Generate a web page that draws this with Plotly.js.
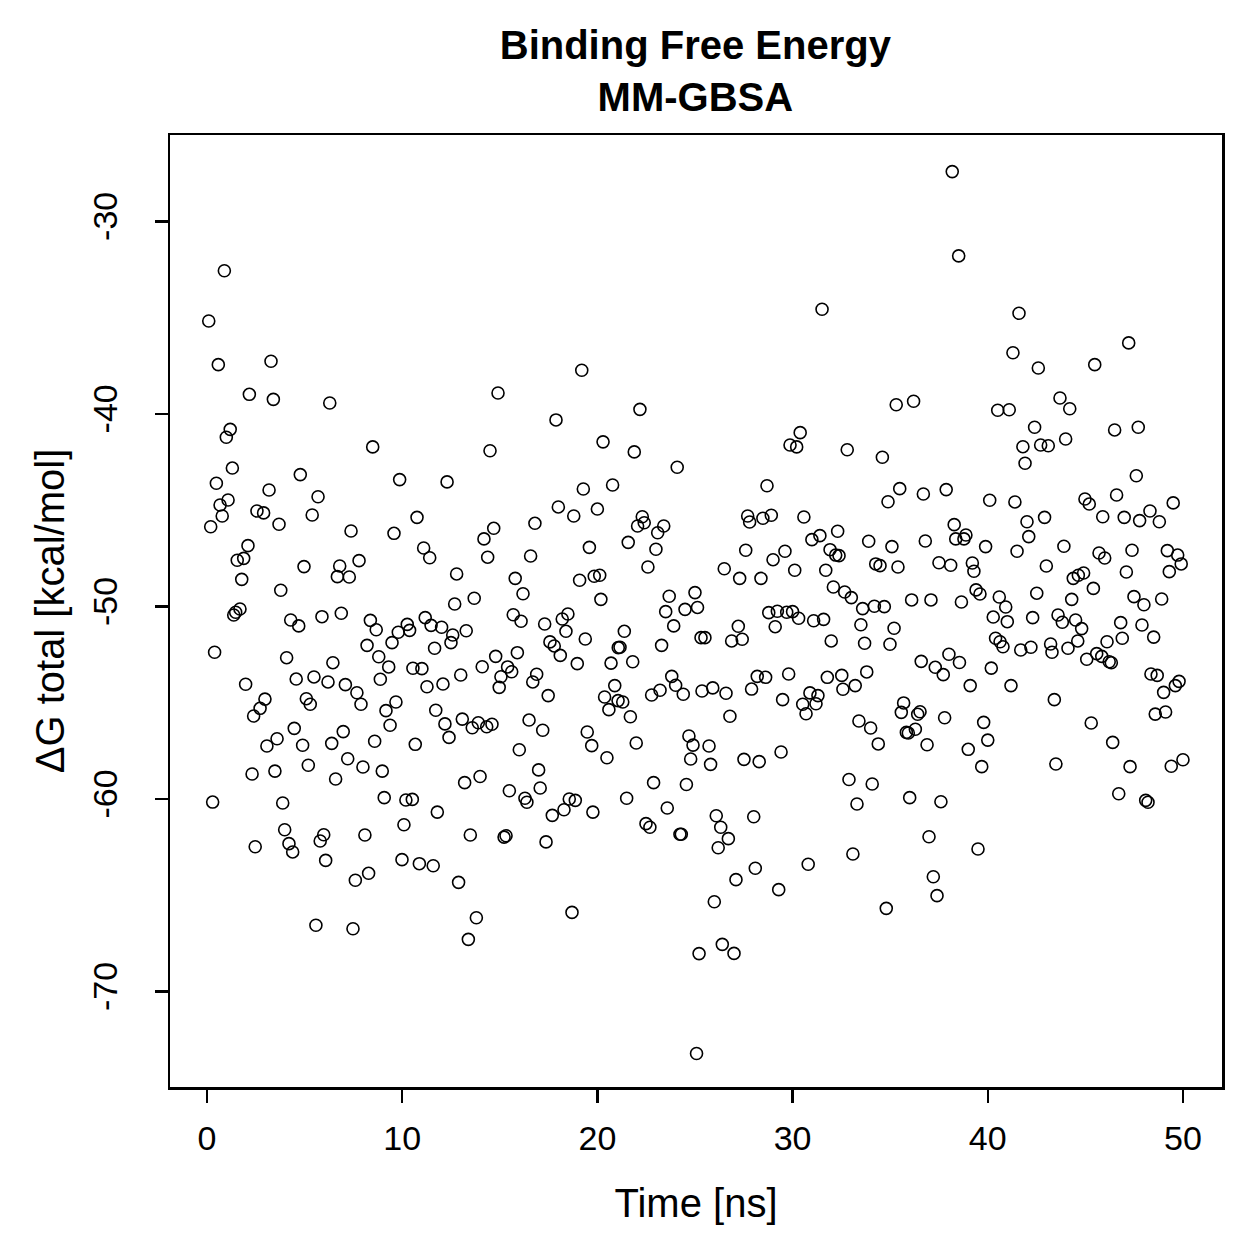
<!DOCTYPE html>
<html>
<head>
<meta charset="utf-8">
<script src="https://cdn.plot.ly/plotly-3.0.1.min.js"></script>
<style>
  html, body { margin: 0; padding: 0; background: #ffffff; }
  #chart { width: 1259px; height: 1259px; }
</style>
</head>
<body>
<div id="chart"></div>
<script>
// MM-GBSA binding free energy per frame (time in ns, energy in kcal/mol)
const time = [
  0.89, 0.09, 0.58, 3.28, 2.17, 3.40, 6.29, 1.19, 0.99, 8.49,
  19.20, 14.91, 22.18, 17.88, 14.50, 20.29, 21.89, 38.18, 38.51, 31.51,
  35.31, 36.20, 30.39, 29.87, 30.21, 32.80, 34.60, 41.60, 41.29, 42.59,
  47.22, 45.48, 43.70, 44.20, 40.51, 41.10, 42.40, 46.50, 47.71, 43.99,
  41.80, 42.71, 43.10, 1.30, 0.48, 4.78, 9.87, 3.18, 1.08, 0.67,
  5.69, 2.56, 2.90, 0.78, 5.39, 0.19, 3.69, 10.76, 7.38, 9.58,
  2.10, 11.10, 11.41, 1.55, 1.88, 4.97, 6.80, 7.79, 6.68, 7.29,
  1.78, 3.78, 1.69, 1.47, 1.37, 4.29, 4.70, 5.89, 6.88, 8.37,
  8.67, 9.80, 10.26, 10.38, 11.18, 11.48, 12.02, 9.48, 8.20, 0.39,
  11.66, 4.08, 8.80, 9.31, 6.45, 10.55, 11.01, 1.98, 4.57, 5.48,
  6.20, 7.09, 8.88, 11.27, 12.09, 7.68, 5.09, 5.29, 7.89, 9.68,
  9.17, 2.97, 2.72, 2.39, 11.72, 12.19, 4.47, 6.98, 9.38, 3.59,
  3.07, 4.90, 6.39, 8.59, 10.67, 7.21, 7.99, 8.98, 2.31, 3.48,
  5.19, 6.59, 0.29, 3.88, 9.08, 10.19, 10.52, 11.80, 3.98, 4.20,
  4.39, 2.47, 5.98, 5.80, 8.09, 10.09, 6.08, 9.99, 10.88, 11.59,
  8.28, 7.60, 5.58, 7.48, 24.09, 12.30, 19.28, 20.78, 18.00, 18.79,
  20.00, 16.80, 14.69, 14.19, 14.38, 16.58, 19.59, 22.30, 22.40, 22.06,
  23.40, 23.09, 21.58, 23.00, 22.59, 12.79, 15.79, 19.09, 19.84, 20.12,
  16.19, 13.69, 12.69, 20.18, 23.68, 25.00, 23.50, 24.49, 25.13, 23.91,
  15.69, 16.09, 17.30, 18.20, 18.49, 18.39, 19.38, 21.38, 21.16, 21.07,
  23.29, 25.31, 25.51, 12.59, 12.50, 13.28, 17.57, 17.79, 18.10, 18.97,
  20.70, 21.81, 14.79, 15.90, 14.10, 15.40, 15.61, 15.06, 14.97, 13.00,
  16.89, 16.69, 17.48, 20.89, 20.37, 21.06, 21.30, 20.59, 21.69, 23.81,
  24.01, 24.40, 23.21, 22.78, 25.36, 12.40, 13.08, 13.59, 13.90, 14.33,
  14.60, 16.50, 17.20, 16.00, 19.48, 19.71, 20.49, 21.99, 24.69, 24.90,
  24.78, 16.99, 13.99, 13.20, 15.49, 17.07, 16.29, 16.39, 18.56, 18.87,
  18.29, 17.69, 19.77, 13.49, 15.22, 15.32, 17.37, 21.50, 22.88, 24.56,
  23.58, 22.49, 22.69, 24.23, 24.30, 12.89, 18.70, 13.80, 13.39, 25.21,
  25.08, 28.69, 34.89, 35.49, 36.70, 37.87, 27.70, 27.80, 28.48, 28.91,
  30.58, 32.31, 31.40, 30.99, 33.90, 35.09, 36.80, 38.28, 38.36, 27.60,
  29.61, 29.00, 31.92, 32.21, 32.38, 34.26, 34.48, 35.40, 37.50, 38.10,
  26.50, 27.29, 28.38, 30.11, 31.70, 32.09, 32.67, 33.01, 33.59, 34.19,
  34.70, 36.10, 37.09, 38.65, 28.78, 29.22, 29.70, 30.00, 30.31, 29.11,
  31.08, 31.59, 33.50, 35.20, 27.22, 26.88, 27.42, 31.98, 33.69, 34.99,
  36.59, 37.31, 37.72, 38.01, 38.55, 28.19, 28.62, 29.80, 31.78, 32.52,
  33.80, 32.58, 33.21, 27.90, 25.91, 26.59, 29.49, 30.89, 31.30, 30.52,
  31.20, 30.69, 26.79, 35.69, 35.57, 36.53, 36.41, 37.79, 33.40, 34.00,
  36.29, 35.83, 35.93, 34.39, 36.89, 25.72, 25.80, 27.51, 28.29, 29.41,
  32.89, 34.08, 36.00, 37.60, 33.30, 26.09, 26.32, 26.71, 26.19, 28.01,
  36.99, 33.09, 28.09, 27.10, 30.80, 29.29, 37.21, 37.40, 34.80, 25.99,
  26.40, 27.00, 41.91, 47.61, 40.10, 41.39, 44.98, 45.20, 46.60, 49.50,
  42.01, 42.91, 45.89, 46.99, 47.78, 48.31, 48.79, 38.88, 38.78, 42.10,
  39.89, 41.50, 43.90, 47.39, 45.70, 45.99, 47.10, 49.20, 49.73, 49.91,
  49.30, 39.21, 39.29, 43.00, 44.91, 44.64, 44.38, 45.41, 39.40, 39.60,
  40.59, 40.92, 42.51, 44.30, 47.49, 48.00, 48.91, 40.28, 41.00, 42.30,
  43.60, 43.82, 44.50, 44.81, 46.81, 47.90, 48.50, 46.89, 40.40, 40.63,
  40.78, 41.69, 42.21, 43.22, 43.29, 44.11, 44.61, 46.11, 45.58, 45.84,
  46.22, 46.33, 45.07, 40.18, 48.36, 48.68, 49.80, 49.61, 49.01, 39.10,
  41.19, 43.41, 48.58, 49.11, 39.79, 40.00, 39.00, 39.69, 45.30, 46.40,
  43.49, 47.29, 49.40, 50.00, 46.71, 48.09, 48.21, 39.50
];

const deltaG = [
  -32.56, -35.17, -37.44, -37.26, -38.98, -39.24, -39.43, -40.80, -41.21, -41.71,
  -37.73, -38.91, -39.76, -40.31, -41.91, -41.45, -41.97, -27.41, -31.79, -34.56,
  -39.52, -39.34, -40.97, -41.61, -41.71, -41.86, -42.25, -34.77, -36.82, -37.61,
  -36.31, -37.44, -39.17, -39.73, -39.81, -39.78, -40.69, -40.83, -40.69, -41.30,
  -41.70, -41.61, -41.65, -42.81, -43.60, -43.15, -43.41, -43.95, -44.47, -44.73,
  -44.30, -45.04, -45.14, -45.30, -45.25, -45.86, -45.73, -45.37, -46.08, -46.20,
  -46.84, -46.96, -47.47, -47.60, -47.50, -47.93, -47.90, -47.62, -48.45, -48.47,
  -48.59, -49.16, -50.13, -50.30, -50.44, -50.70, -51.01, -50.53, -50.35, -50.72,
  -51.21, -51.34, -50.93, -51.24, -50.58, -50.98, -51.08, -51.88, -52.02, -52.38,
  -52.17, -52.66, -52.61, -53.14, -52.92, -53.21, -53.23, -54.04, -53.77, -53.66,
  -53.92, -54.06, -53.78, -54.17, -54.03, -54.48, -54.79, -55.08, -55.08, -54.96,
  -55.41, -54.81, -55.29, -55.69, -55.39, -56.10, -56.33, -56.50, -56.17, -56.87,
  -57.25, -57.21, -57.11, -57.00, -57.16, -57.91, -58.34, -58.55, -58.70, -58.55,
  -58.25, -58.96, -60.16, -60.21, -59.93, -60.05, -60.02, -60.68, -61.60, -62.32,
  -62.75, -62.48, -61.86, -62.18, -61.87, -61.34, -63.19, -63.15, -63.36, -63.47,
  -63.86, -64.22, -66.56, -66.74, -42.77, -43.53, -43.90, -43.69, -44.83, -45.30,
  -44.94, -45.68, -45.94, -46.49, -47.44, -47.38, -46.93, -45.34, -45.65, -45.82,
  -45.82, -46.17, -46.67, -47.03, -47.95, -48.31, -48.54, -48.64, -48.43, -48.38,
  -49.34, -49.57, -49.87, -49.63, -49.47, -49.28, -50.27, -50.15, -50.05, -51.01,
  -50.43, -50.77, -50.91, -50.65, -50.39, -51.29, -51.69, -51.29, -52.12, -52.14,
  -52.02, -51.62, -51.62, -51.48, -51.88, -51.26, -51.84, -52.05, -52.54, -52.97,
  -52.94, -52.87, -52.59, -52.40, -53.13, -53.14, -53.39, -53.65, -54.20, -53.56,
  -53.52, -53.92, -54.63, -54.11, -54.70, -54.89, -54.96, -55.36, -55.73, -53.63,
  -54.09, -54.56, -54.35, -54.60, -54.39, -56.80, -55.85, -56.30, -56.04, -56.25,
  -56.12, -55.90, -56.43, -57.44, -56.52, -57.23, -57.86, -57.09, -56.73, -57.20,
  -57.92, -58.49, -58.83, -59.15, -59.57, -59.43, -59.96, -60.17, -60.00, -60.07,
  -60.56, -60.85, -60.68, -61.87, -61.98, -61.91, -62.23, -59.96, -59.15, -59.25,
  -60.47, -61.28, -61.47, -61.83, -61.83, -64.33, -65.89, -66.17, -67.29, -68.03,
  -73.22, -43.73, -44.56, -43.88, -44.16, -43.93, -45.30, -45.61, -45.42, -45.26,
  -45.35, -46.09, -46.32, -46.53, -46.61, -46.89, -46.60, -45.75, -46.49, -47.08,
  -47.13, -47.57, -47.05, -47.33, -47.36, -47.79, -47.88, -47.95, -47.73, -47.86,
  -48.04, -48.54, -48.54, -48.12, -48.12, -48.99, -49.25, -49.54, -50.11, -49.99,
  -50.01, -49.66, -49.66, -49.77, -50.32, -50.25, -50.30, -50.27, -50.61, -51.05,
  -50.74, -50.67, -50.95, -51.13, -51.03, -51.79, -51.70, -51.79, -51.91, -51.96,
  -52.85, -53.16, -53.54, -52.48, -52.91, -53.63, -53.68, -53.51, -53.68, -53.58,
  -53.40, -54.30, -54.11, -54.29, -54.23, -54.51, -54.84, -54.49, -54.63, -55.08,
  -55.05, -55.57, -55.70, -55.01, -55.50, -55.47, -55.60, -55.78, -55.95, -56.31,
  -56.38, -56.54, -56.57, -57.14, -57.18, -57.25, -58.20, -57.94, -58.06, -57.56,
  -58.99, -59.22, -59.93, -60.14, -60.26, -60.87, -61.47, -62.06, -62.53, -60.92,
  -61.96, -62.86, -63.60, -64.19, -63.39, -64.71, -64.04, -65.02, -65.68, -65.34,
  -67.55, -68.02, -42.56, -43.21, -44.48, -44.57, -44.42, -44.68, -44.21, -44.62,
  -45.60, -45.37, -45.34, -45.37, -45.54, -45.04, -45.60, -46.29, -46.49, -46.37,
  -46.89, -47.13, -46.87, -47.08, -47.22, -47.48, -48.21, -47.10, -47.33, -47.79,
  -48.19, -47.74, -48.17, -47.90, -48.26, -48.38, -48.54, -49.06, -49.14, -49.35,
  -49.51, -50.03, -49.31, -49.63, -49.49, -49.91, -49.61, -50.55, -50.79, -50.58,
  -50.44, -50.82, -50.70, -51.15, -50.84, -50.96, -51.59, -51.65, -51.65, -51.83,
  -52.09, -52.26, -52.12, -51.95, -52.38, -52.17, -51.79, -51.83, -52.45, -52.59,
  -52.87, -52.92, -52.74, -53.20, -53.51, -53.58, -53.89, -54.11, -54.46, -54.11,
  -54.11, -54.84, -55.59, -55.48, -56.02, -56.94, -57.42, -58.32, -56.05, -57.06,
  -58.18, -58.32, -58.30, -57.96, -59.73, -60.07, -60.17, -62.60
];

const xTicks = [0, 10, 20, 30, 40, 50];
const yTicks = [-30, -40, -50, -60, -70];
const yTickText = ['-30', '-40', '-50', '-60', '-70'];

const font = 'Liberation Sans, Arial, Helvetica, sans-serif';

const trace = {
  type: 'scatter',
  mode: 'markers',
  x: time,
  y: deltaG,
  marker: {
    symbol: 'circle-open',
    size: 12,
    color: '#000000',
    line: { color: '#000000', width: 1.6 }
  },
  hoverinfo: 'x+y'
};

const axisCommon = {
  showgrid: false,
  zeroline: false,
  showline: true,
  mirror: true,
  linecolor: '#000000',
  linewidth: 2.5,
  ticks: 'outside',
  ticklen: 13,
  tickwidth: 2.5,
  tickcolor: '#000000',
  tickfont: { family: font, size: 34, color: '#000000' },
  automargin: false
};

const layout = {
  width: 1259,
  height: 1259,
  paper_bgcolor: '#ffffff',
  plot_bgcolor: '#ffffff',
  margin: { l: 170, r: 37, t: 135, b: 172 },
  showlegend: false,
  title: {
    text: '<b>Binding Free Energy</b><br><b>MM-GBSA</b>',
    font: { family: font, size: 40, color: '#000000' },
    x: 0.5523,
    xanchor: 'center',
    xref: 'container',
    y: 0.9534,
    yanchor: 'top',
    yref: 'container'
  },
  xaxis: Object.assign({}, axisCommon, {
    range: [-1.895, 52.0],
    tickmode: 'array',
    tickvals: xTicks,
    ticklabelstandoff: 7,
    title: {
      text: 'Time [ns]',
      font: { family: font, size: 40, color: '#000000' },
      standoff: 33
    }
  }),
  yaxis: Object.assign({}, axisCommon, {
    range: [-74.96, -25.51],
    tickmode: 'array',
    tickvals: yTicks,
    ticktext: yTickText,
    tickangle: -90,
    ticklabelstandoff: 24,
    title: {
      text: 'ΔG total [kcal/mol]',
      font: { family: font, size: 40, color: '#000000' },
      standoff: 9
    }
  })
};

Plotly.newPlot('chart', [trace], layout, { displayModeBar: false, staticPlot: true });
</script>
</body>
</html>
